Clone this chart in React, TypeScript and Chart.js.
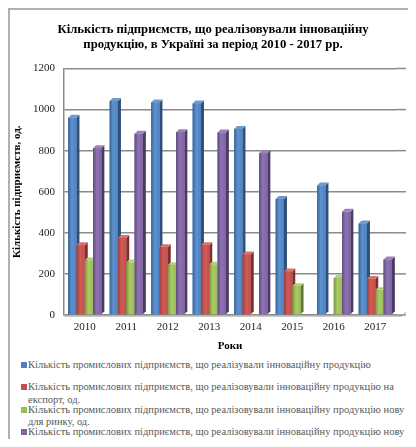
import React, { useEffect, useRef } from "react";
import { Chart, registerables } from "chart.js";

Chart.register(...registerables);

const years = ["2010", "2011", "2012", "2013", "2014", "2015", "2016", "2017"];
const totalInnovative = [960, 1042, 1035, 1030, 905, 565, 630, 445];
const exportProducts = [340, 375, 330, 340, 295, 212, 0, 175];
const newForMarket = [265, 255, 242, 245, 3, 140, 180, 120];
const newForEnterprise = [812, 882, 890, 888, 787, 3, 502, 270];
const yTicks = [0, 200, 400, 600, 800, 1000, 1200];

const seriesNames = [
  "Кількість промислових підприємств, що реалізували інноваційну продукцію",
  "Кількість промислових підприємств, що реалізовували інноваційну продукцію на експорт, од.",
  "Кількість промислових підприємств, що реалізовували інноваційну продукцію нову для ринку, од.",
  "Кількість промислових підприємств, що реалізовували інноваційну продукцію нову для підприємства, од.",
];
const titleLines = [
  "Кількість підприємств, що реалізовували інноваційну",
  "продукцію, в Україні за період 2010 - 2017 рр.",
];
const yTitle = "Кількість підприємств, од.";
const xTitle = "Роки";

const mainColors = ["#4F81BD", "#C0504D", "#9BBB59", "#8064A2"];
const darkColors = ["#3A6597", "#98403D", "#7A9644", "#624C80"];
const sideColors = ["#2E4F78", "#7A302E", "#5F7634", "#4B3A63"];
const topColors = ["#6F9AD0", "#D6736F", "#B3CF7C", "#9A82BA"];
const lightColors = ["#5D92D2", "#D25A56", "#A9CC62", "#8F72B5"];

const FONT = "'Liberation Serif', 'Times New Roman', serif";

const bars3d = {
  id: "bars3d",
  beforeDatasetsDraw(chart: any) {
    const ctx = chart.ctx;
    const area = chart.chartArea;
    const ys = chart.scales.y;
    const d = 4;
    ctx.save();
    ctx.strokeStyle = "#8a8a8a";
    ctx.lineWidth = 1.5;
    ys.ticks.forEach((t: any) => {
      const py = ys.getPixelForValue(t.value);
      ctx.beginPath();
      ctx.moveTo(area.right, py);
      ctx.lineTo(area.right + 10, py);
      ctx.stroke();
    });
    ctx.strokeStyle = "#9a9a9a";
    ctx.lineWidth = 1;
    ctx.beginPath();
    ctx.moveTo(area.left, area.bottom + 1);
    ctx.lineTo(area.right + 6, area.bottom + 1);
    ctx.lineTo(area.right + 10, area.bottom - d + 1);
    ctx.stroke();
    ctx.restore();
  },
  afterDatasetsDraw(chart: any) {
    const ctx = chart.ctx;
    const d = 3;
    ctx.save();
    chart.data.datasets.forEach((ds: any, i: number) => {
      const meta = chart.getDatasetMeta(i);
      meta.data.forEach((el: any) => {
        const p = el.getProps(["x", "y", "base", "width"], true);
        const l = p.x - p.width / 2;
        const r = p.x + p.width / 2;
        const top = p.y;
        const base = p.base;
        if (base - top < 0.3) return;
        ctx.fillStyle = sideColors[i];
        ctx.beginPath();
        ctx.moveTo(r, top);
        ctx.lineTo(r + d, top - d);
        ctx.lineTo(r + d, base - d);
        ctx.lineTo(r, base);
        ctx.closePath();
        ctx.fill();
        ctx.fillStyle = topColors[i];
        ctx.beginPath();
        ctx.moveTo(l, top);
        ctx.lineTo(l + d, top - d);
        ctx.lineTo(r + d, top - d);
        ctx.lineTo(r, top);
        ctx.closePath();
        ctx.fill();
        const g = ctx.createLinearGradient(l, 0, r, 0);
        g.addColorStop(0, darkColors[i]);
        g.addColorStop(0.45, lightColors[i]);
        g.addColorStop(1, mainColors[i]);
        ctx.fillStyle = g;
        ctx.fillRect(l, top, p.width, base - top);
      });
    });
    ctx.restore();
  },
};

function App() {
  const ref = useRef<HTMLCanvasElement | null>(null);
  useEffect(() => {
    if (!ref.current) return;
    const seriesValues = [totalInnovative, exportProducts, newForMarket, newForEnterprise];
    const chart = new Chart(ref.current, {
      type: "bar",
      data: {
        labels: years,
        datasets: seriesValues.map((vals, i) => ({
          label: seriesNames[i],
          data: vals,
          backgroundColor: mainColors[i],
          borderWidth: 0,
          categoryPercentage: 0.8,
          barPercentage: 1,
        })),
      },
      options: {
        responsive: false,
        animation: false,
        layout: { padding: 0 },
        plugins: {
          legend: { display: false },
          tooltip: { enabled: false },
          title: {
            display: true,
            text: titleLines,
            color: "#000",
            font: { family: FONT, size: 12.7, weight: "bold" },
            padding: { top: 12, bottom: 16 },
          },
        },
        scales: {
          x: {
            grid: { display: false, drawTicks: false },
            border: { display: false },
            ticks: { color: "#222", font: { family: FONT, size: 11 }, padding: 6, maxRotation: 0 },
            title: {
              display: true,
              text: xTitle,
              color: "#000",
              font: { family: FONT, size: 11, weight: "bold" },
              padding: { top: 0, bottom: 2 },
            },
            afterFit: (s: any) => {
              s.height = 40;
            },
          },
          y: {
            min: 0,
            max: 1200,
            afterBuildTicks: (s: any) => {
              s.ticks = yTicks.map((v) => ({ value: v }));
            },
            grid: { color: "#8a8a8a", lineWidth: 1.5, drawTicks: false },
            border: { display: true, color: "#8a8a8a", width: 1.5 },
            ticks: {
              color: "#222",
              font: { family: FONT, size: 11 },
              padding: 9,
              callback: (v: any) => String(v),
            },
            title: {
              display: true,
              text: yTitle,
              color: "#000",
              font: { family: FONT, size: 11, weight: "bold" },
              padding: { top: 1, bottom: 0 },
            },
            afterFit: (s: any) => {
              s.width = 54;
            },
          },
          yr: {
            position: "right",
            display: true,
            grid: { display: false },
            border: { display: false },
            ticks: { display: false },
            afterFit: (s: any) => {
              s.width = 20;
            },
          },
        },
      } as any,
      plugins: [bars3d],
    });
    return () => chart.destroy();
  }, []);

  return (
    <div
      style={{
        width: 408,
        height: 439,
        boxSizing: "border-box",
        borderTop: "2px solid #b0b0b0",
        borderLeft: "2px solid #b0b0b0",
        overflow: "hidden",
        marginBottom: -8,
        position: "relative",
      }}
    >
      <canvas ref={ref} width={406} height={345} style={{ display: "block", width: 406, height: 345 }} />
      <div style={{ position: "absolute", left: 11, top: 349, width: 395, fontFamily: FONT, fontSize: 10.5, color: "#595959" }}>
        {seriesNames.map((name, i) => (
          <div key={i} style={{ position: "relative", height: 22.3, lineHeight: "12.5px", paddingLeft: 7 }}>
            <span
              style={{
                position: "absolute",
                left: 0,
                top: 3,
                width: 6,
                height: 6,
                background: mainColors[i],
              }}
            />
            {name}
          </div>
        ))}
      </div>
    </div>
  );
}

export default App;
